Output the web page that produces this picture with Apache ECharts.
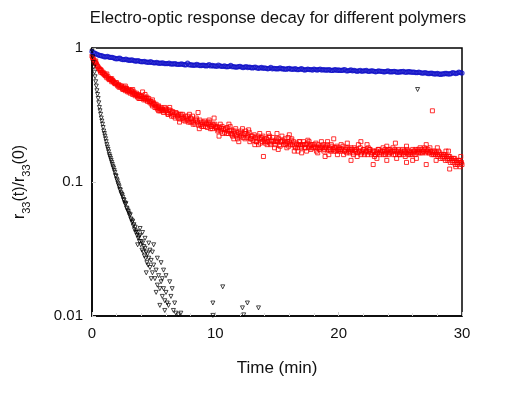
<!DOCTYPE html>
<html>
<head>
<meta charset="utf-8">
<script src="https://cdn.jsdelivr.net/npm/echarts@6/dist/echarts.min.js"></script>
<style>html,body{margin:0;padding:0;background:#fff;}#c{width:528px;height:396px;}</style>
</head>
<body>
<div id="c"></div>
<script>
const titleText = 'Electro-optic response decay for different polymers';
const xName = 'Time (min)';
const xTicks = [0, 10, 20, 30];
const yTicks = [0.01, 0.1, 1];

// Polymer A (blue, slow decay)
const blueData = [[0,0.94],[0.25,0.91],[0.5,0.89],[0.75,0.875],[1,0.86],[1.25,0.865],[1.5,0.85],[1.75,0.845],[2,0.83],[2.25,0.84],[2.5,0.82],[2.75,0.825],[3,0.81],[3.25,0.815],[3.5,0.80],[3.75,0.805],[4,0.79],[4.25,0.795],[4.5,0.785],[4.75,0.79],[5,0.775],[5.25,0.78],[5.5,0.77],[5.75,0.775],[6,0.765],[6.25,0.77],[6.5,0.76],[6.75,0.765],[7,0.755],[7.25,0.76],[7.5,0.75],[7.75,0.77],[8,0.75],[8.25,0.745],[8.5,0.755],[8.75,0.74],[9,0.745],[9.25,0.735],[9.5,0.75],[9.75,0.74],[10,0.735],[10.25,0.745],[10.5,0.73],[10.75,0.735],[11,0.725],[11.25,0.74],[11.5,0.725],[11.75,0.72],[12,0.73],[12.25,0.715],[12.5,0.725],[12.75,0.72],[13,0.71],[13.25,0.72],[13.5,0.705],[13.75,0.715],[14,0.71],[14.25,0.70],[14.5,0.715],[14.75,0.705],[15,0.70],[15.25,0.71],[15.5,0.70],[15.75,0.695],[16,0.705],[16.25,0.695],[16.5,0.70],[16.75,0.69],[17,0.70],[17.25,0.685],[17.5,0.695],[17.75,0.69],[18,0.695],[18.25,0.685],[18.5,0.695],[18.75,0.69],[19,0.685],[19.25,0.69],[19.5,0.68],[19.75,0.69],[20,0.685],[20.25,0.68],[20.5,0.69],[20.75,0.675],[21,0.685],[21.25,0.68],[21.5,0.67],[21.75,0.68],[22,0.675],[22.25,0.68],[22.5,0.67],[22.75,0.675],[23,0.665],[23.25,0.675],[23.5,0.67],[23.75,0.665],[24,0.675],[24.25,0.665],[24.5,0.67],[24.75,0.66],[25,0.665],[25.25,0.67],[25.5,0.66],[25.75,0.665],[26,0.66],[26.25,0.655],[26.5,0.66],[26.75,0.65],[27,0.655],[27.25,0.645],[27.5,0.65],[27.75,0.64],[28,0.645],[28.25,0.635],[28.5,0.64],[28.75,0.645],[29,0.64],[29.25,0.655],[29.5,0.645],[29.75,0.66],[30,0.65],
[0.125,0.925],[0.375,0.90],[0.625,0.88],[0.875,0.87],[1.125,0.86],[1.375,0.855],[1.625,0.85],[1.875,0.835],[2.125,0.835],[2.375,0.825],[2.625,0.82],[2.875,0.815],[3.125,0.81],[3.375,0.805],[3.625,0.80],[3.875,0.795],[4.125,0.79],[4.375,0.785],[4.625,0.78],[4.875,0.78],[5.125,0.775],[5.375,0.77],[5.625,0.77],[5.875,0.765],[6.125,0.765],[6.375,0.76],[6.625,0.76],[6.875,0.755],[7.125,0.755],[7.375,0.755],[7.625,0.75],[7.875,0.75],[8.125,0.745],[8.375,0.745],[8.625,0.745],[8.875,0.74],[9.125,0.74],[9.375,0.74],[9.625,0.735],[9.875,0.735],[10.125,0.73],[10.375,0.735],[10.625,0.73],[10.875,0.725],[11.125,0.73],[11.375,0.725],[11.625,0.72],[11.875,0.725],[12.125,0.72],[12.375,0.72],[12.625,0.715],[12.875,0.715],[13.125,0.715],[13.375,0.71],[13.625,0.71],[13.875,0.705],[14.125,0.705],[14.375,0.705],[14.625,0.70],[14.875,0.70],[15.125,0.70],[15.375,0.70],[15.625,0.695],[15.875,0.70],[16.125,0.695],[16.375,0.695],[16.625,0.69],[16.875,0.695],[17.125,0.69],[17.375,0.69],[17.625,0.69],[17.875,0.685],[18.125,0.69],[18.375,0.69],[18.625,0.685],[18.875,0.685],[19.125,0.685],[19.375,0.68],[19.625,0.685],[19.875,0.68],[20.125,0.68],[20.375,0.685],[20.625,0.675],[20.875,0.68],[21.125,0.675],[21.375,0.675],[21.625,0.675],[21.875,0.67],[22.125,0.675],[22.375,0.67],[22.625,0.675],[22.875,0.67],[23.125,0.67],[23.375,0.67],[23.625,0.665],[23.875,0.67],[24.125,0.665],[24.375,0.665],[24.625,0.665],[24.875,0.66],[25.125,0.665],[25.375,0.66],[25.625,0.665],[25.875,0.66],[26.125,0.66],[26.375,0.655],[26.625,0.655],[26.875,0.65],[27.125,0.65],[27.375,0.645],[27.625,0.645],[27.875,0.64],[28.125,0.64],[28.375,0.64],[28.625,0.645],[28.875,0.64],[29.125,0.645],[29.375,0.65],[29.625,0.65],[29.875,0.655]];

// Polymer B (red, intermediate decay)
const redData = [[0,0.87],[0.1,0.83],[0.2,0.79],[0.3,0.77],[0.4,0.74],[0.5,0.72],[0.6,0.70],[0.7,0.69],[0.8,0.66],[0.9,0.66],[1.0,0.63],[1.1,0.62],[1.2,0.60],[1.3,0.61],[1.4,0.58],[1.5,0.59],[1.6,0.56],[1.7,0.57],[1.8,0.55],[1.9,0.54],[2.0,0.55],[2.1,0.52],[2.2,0.53],[2.3,0.51],[2.4,0.52],[2.5,0.49],[2.6,0.51],[2.7,0.48],[2.8,0.50],[2.9,0.47],[3.0,0.49],[3.1,0.46],[3.2,0.48],[3.3,0.45],[3.4,0.47],[3.5,0.44],[3.6,0.46],[3.7,0.43],[3.8,0.45],[3.9,0.42],[4.0,0.44],[4.1,0.47],[4.2,0.41],[4.3,0.43],[4.4,0.42],[4.5,0.40],[4.6,0.42],[4.7,0.39],[4.8,0.40],[4.9,0.37],[5.0,0.39],[5.1,0.36],[5.2,0.38],[5.3,0.35],[5.4,0.37],[5.5,0.34],[5.6,0.36],[5.7,0.35],[5.8,0.33],[5.9,0.36],[6.0,0.34],[6.2,0.32],[6.4,0.34],[6.6,0.31],[6.8,0.33],[7.0,0.30],[7.2,0.32],[7.4,0.29],[7.6,0.31],[7.8,0.28],[8.0,0.30],[8.2,0.27],[8.4,0.29],[8.6,0.33],[8.8,0.27],[9.0,0.28],[9.2,0.26],[9.4,0.28],[9.6,0.25],[9.8,0.27],[10.0,0.26],[10.2,0.24],[10.4,0.27],[10.6,0.23],[10.8,0.25],[11.0,0.24],[11.2,0.26],[11.4,0.22],[11.6,0.24],[11.8,0.21],[12.0,0.23],[12.2,0.25],[12.4,0.21],[12.6,0.22],[12.8,0.20],[13.0,0.22],[13.2,0.19],[13.4,0.21],[13.6,0.23],[13.8,0.20],[14.0,0.21],[14.2,0.19],[14.4,0.22],[14.6,0.20],[14.8,0.18],[15.0,0.21],[15.2,0.19],[15.4,0.22],[15.6,0.20],[15.8,0.18],[16.0,0.20],[16.2,0.21],[16.4,0.17],[16.6,0.19],[16.8,0.20],[17.0,0.18],[17.2,0.19],[17.4,0.17],[17.6,0.20],[17.8,0.18],[18.0,0.19],[18.2,0.17],[18.4,0.18],[18.6,0.20],[18.8,0.17],[19.0,0.18],[19.2,0.16],[19.4,0.19],[19.6,0.17],[19.8,0.18],[20.0,0.17],[20.2,0.19],[20.4,0.16],[20.6,0.18],[20.8,0.17],[21.0,0.18],[21.2,0.16],[21.4,0.17],[21.6,0.19],[21.8,0.16],[22.0,0.175],[22.2,0.17],[22.4,0.18],[22.6,0.165],[22.8,0.17],[23.0,0.16],[23.2,0.175],[23.4,0.17],[23.6,0.18],[23.8,0.16],[24.0,0.175],[24.2,0.17],[24.4,0.18],[24.6,0.16],[24.8,0.17],[25.0,0.165],[25.2,0.175],[25.4,0.155],[25.6,0.17],[25.8,0.16],[26.0,0.175],[26.2,0.16],[26.4,0.17],[26.6,0.18],[26.8,0.165],[27.0,0.175],[27.2,0.17],[27.4,0.18],[27.6,0.165],[27.8,0.17],[28.0,0.16],[28.2,0.165],[28.4,0.155],[28.6,0.16],[28.8,0.15],[29.0,0.155],[29.2,0.145],[29.4,0.15],[29.6,0.14],[29.8,0.145],[30.0,0.135],
[0.05,0.85],[0.25,0.78],[0.45,0.73],[0.65,0.68],[0.85,0.65],[1.05,0.64],[1.35,0.59],[1.65,0.57],[2.05,0.53],[2.45,0.50],[2.85,0.48],[3.25,0.47],[3.65,0.44],[4.05,0.42],[4.45,0.43],[4.85,0.38],[5.25,0.36],[5.65,0.34],[6.1,0.33],[6.5,0.33],[6.9,0.31],[7.3,0.30],[7.7,0.29],[8.1,0.28],[8.5,0.29],[8.9,0.26],[9.3,0.27],[9.7,0.26],[10.1,0.25],[10.5,0.25],[10.9,0.23],[11.3,0.23],[11.7,0.22],[12.1,0.22],[12.5,0.23],[12.9,0.21],[13.3,0.20],[13.7,0.21],[13.9,0.155],[14.1,0.20],[14.5,0.19],[14.9,0.20],[15.3,0.20],[15.7,0.19],[16.1,0.19],[16.5,0.18],[16.9,0.19],[17.3,0.18],[17.7,0.19],[18.1,0.18],[18.5,0.18],[18.9,0.18],[19.3,0.175],[19.7,0.18],[20.1,0.175],[20.5,0.17],[20.9,0.165],[21.3,0.175],[21.7,0.17],[22.1,0.16],[22.5,0.175],[22.9,0.155],[23.3,0.165],[23.7,0.17],[24.1,0.165],[24.5,0.17],[24.9,0.16],[25.3,0.17],[25.7,0.165],[26.1,0.17],[26.5,0.165],[26.9,0.17],[27.3,0.165],[27.6,0.34],[27.7,0.16],[28.1,0.17],[28.5,0.16],[28.9,0.155],[29.3,0.15],[29.7,0.145],[29.9,0.14],
[22.8,0.135],[25.5,0.14],[27.1,0.135],[19.6,0.21],[16.0,0.225],[21.0,0.145],
[0.15,0.81],[0.35,0.76],[0.55,0.70],[0.75,0.68],[0.95,0.64],[1.15,0.62],[1.45,0.585],[1.55,0.58],[1.75,0.56],[1.85,0.545],[1.95,0.55],[2.15,0.53],[2.35,0.52],[2.55,0.50],[2.65,0.49],[2.75,0.50],[2.95,0.48],[3.05,0.47],[3.15,0.48],[3.35,0.46],[3.45,0.455],[3.55,0.45],[3.75,0.44],[3.85,0.44],[3.95,0.435],[4.15,0.43],[4.25,0.42],[4.35,0.41],[4.55,0.41],[4.65,0.40],[4.75,0.40],[4.95,0.385],[5.05,0.38],[5.15,0.37],[5.35,0.365],[5.45,0.355],[5.55,0.35],[5.75,0.345],[5.85,0.34],[5.95,0.35],
[6.05,0.35],[6.15,0.32],[6.25,0.345],[6.35,0.325],[6.45,0.31],[6.55,0.335],[6.65,0.32],[6.75,0.30],[6.85,0.325],[6.95,0.315],[7.05,0.32],[7.15,0.295],[7.25,0.31],[7.35,0.32],[7.45,0.30],[7.55,0.285],[7.65,0.30],[7.75,0.31],[7.85,0.29],[7.95,0.28],[8.05,0.295],[8.15,0.31],[8.25,0.28],[8.35,0.27],[8.45,0.30],[8.55,0.28],[8.65,0.265],[8.75,0.29],[8.85,0.28],[8.95,0.27],[9.05,0.26],[9.15,0.285],[9.25,0.275],[9.35,0.255],[9.45,0.27],[9.55,0.28],[9.65,0.26],[9.75,0.25],[9.85,0.265],[9.95,0.27],[10.05,0.255],[10.15,0.26],[10.25,0.245],[10.35,0.255],[10.45,0.24],[10.55,0.26],[10.65,0.25],[10.75,0.235],[10.85,0.245],[10.95,0.255],[11.05,0.23],[11.15,0.24],[11.25,0.245],[11.35,0.225],[11.45,0.24],[11.55,0.23],[11.65,0.25],[11.75,0.225],[11.85,0.235],[11.95,0.22],[12.05,0.24],[12.15,0.225],[12.25,0.215],[12.35,0.23],[12.45,0.24],[12.55,0.215],[12.65,0.225],[12.75,0.235],[12.85,0.21],[12.95,0.22],[13.05,0.205],[13.15,0.225],[13.25,0.215],[13.35,0.2],[13.45,0.22],[13.55,0.21],[13.65,0.195],[13.75,0.215],[13.85,0.22],[13.95,0.205],[14.05,0.195],[14.15,0.21],[14.25,0.2],[14.35,0.215],[14.45,0.195],[14.55,0.205],[14.65,0.215],[14.75,0.2],[14.85,0.19],[14.95,0.205],[15.05,0.2],[15.15,0.21],[15.25,0.185],[15.35,0.2],[15.45,0.205],[15.55,0.19],[15.65,0.21],[15.75,0.195],[15.85,0.2],[15.95,0.185],[16.05,0.195],[16.15,0.205],[16.25,0.19],[16.35,0.2],[16.45,0.185],[16.55,0.195],[16.65,0.18],[16.75,0.19],[16.85,0.2],[16.95,0.185],[17.05,0.19],[17.15,0.2],[17.25,0.18],[17.35,0.19],[17.45,0.195],[17.55,0.18],[17.65,0.185],[17.75,0.175],[17.85,0.19],[17.95,0.18],[18.05,0.185],[18.15,0.195],[18.25,0.18],[18.35,0.19],[18.45,0.175],[18.55,0.185],[18.65,0.18],[18.75,0.19],[18.85,0.175],[18.95,0.185],[19.05,0.19],[19.15,0.175],[19.25,0.18],[19.35,0.17],[19.45,0.185],[19.55,0.175],[19.65,0.18],[19.75,0.17],[19.85,0.185],[19.95,0.175],[20.05,0.18],[20.15,0.17],[20.25,0.175],[20.35,0.185],[20.45,0.17],[20.55,0.175],[20.65,0.165],[20.75,0.18],[20.85,0.175],[20.95,0.17],[21.05,0.175],[21.15,0.165],[21.25,0.18],[21.35,0.17],[21.45,0.175],[21.55,0.165],[21.65,0.17],[21.75,0.18],[21.85,0.165],[21.95,0.17],[22.05,0.175],[22.15,0.165],[22.25,0.17],[22.35,0.16],[22.45,0.17],[22.55,0.175],[22.65,0.16],[22.75,0.165],[22.85,0.17],[22.95,0.16],[23.05,0.17],[23.15,0.165],[23.25,0.175],[23.35,0.16],[23.45,0.165],[23.55,0.17],[23.65,0.16],[23.75,0.175],[23.85,0.165],[23.95,0.17],[24.05,0.16],[24.15,0.175],[24.25,0.165],[24.35,0.17],[24.45,0.16],[24.55,0.175],[24.65,0.17],[24.75,0.165],[24.85,0.175],[24.95,0.16],[25.05,0.17],[25.15,0.165],[25.25,0.16],[25.35,0.17],[25.45,0.165],[25.55,0.175],[25.65,0.16],[25.75,0.17],[25.85,0.165],[25.95,0.16],[26.05,0.165],[26.15,0.17],[26.25,0.175],[26.35,0.165],[26.45,0.175],[26.55,0.17],[26.65,0.165],[26.75,0.175],[26.85,0.17],[26.95,0.18],[27.05,0.165],[27.15,0.17],[27.25,0.175],[27.35,0.165],[27.45,0.17],[27.55,0.16],[27.65,0.17],[27.75,0.165],[27.85,0.16],[27.95,0.165],[28.05,0.155],[28.15,0.16],[28.25,0.15],[28.35,0.16],[28.45,0.15],[28.55,0.155],[28.65,0.145],[28.75,0.155],[28.85,0.145],[28.95,0.15],[29.05,0.14],[29.15,0.15],[29.25,0.14],[29.35,0.145],[29.45,0.135],[29.55,0.145],[29.65,0.135],[29.75,0.14],[29.85,0.13],[29.95,0.14],
[9.9,0.3],[11.5,0.21],[15.0,0.23],[17.0,0.165],[18.9,0.155],[21.8,0.2],[23.9,0.145],[24.6,0.195],[26.0,0.145],[28.0,0.18],[29.0,0.125],[28.9,0.17],
[0.3,0.80],[0.7,0.66],[1.2,0.64],[1.6,0.59],[2.2,0.51],[2.7,0.52],[3.3,0.49],[3.8,0.42],[4.3,0.45],[4.9,0.41],[5.4,0.34],[6.3,0.36],[7.1,0.28],[7.9,0.32],[8.7,0.25],[9.5,0.29],[10.3,0.22],[11.1,0.27],[11.9,0.20],[12.7,0.245],[13.5,0.19],[14.3,0.23],[15.1,0.175],[15.9,0.215],[16.7,0.17],[17.5,0.205],[18.3,0.165],[19.1,0.20],[19.9,0.16],[20.7,0.195],[21.5,0.155],[22.3,0.19],[23.1,0.15],[23.9,0.185],[24.7,0.15],[25.5,0.185],[26.3,0.15],[27.1,0.19],[27.9,0.145],[28.7,0.17],[29.5,0.13],[29.9,0.155]];

// Polymer C (black, fast decay)
const blackData = [[0,0.95],[0.05,0.86],[0.1,0.78],[0.15,0.72],[0.2,0.66],[0.25,0.61],[0.3,0.56],[0.35,0.52],[0.4,0.48],[0.45,0.45],[0.5,0.42],[0.55,0.39],[0.6,0.36],[0.65,0.34],[0.7,0.32],[0.75,0.30],[0.8,0.285],[0.85,0.27],[0.9,0.255],[0.95,0.24],[1.0,0.23],[1.05,0.22],[1.1,0.21],[1.15,0.20],[1.2,0.19],[1.25,0.182],[1.3,0.175],[1.35,0.168],[1.4,0.16],[1.45,0.155],[1.5,0.15],[1.55,0.145],[1.6,0.14],[1.65,0.135],[1.7,0.13],[1.75,0.127],[1.8,0.122],[1.85,0.118],[1.9,0.112],[1.95,0.11],[2.0,0.105],[2.05,0.102],[2.1,0.098],[2.15,0.095],[2.2,0.092],[2.25,0.088],[2.3,0.087],[2.35,0.083],[2.4,0.081],[2.45,0.08],[2.5,0.077],[2.55,0.074],[2.6,0.073],[2.65,0.07],[2.7,0.068],[2.75,0.069],[2.8,0.064],[2.85,0.063],[2.9,0.061],[2.95,0.06],[3.0,0.058],[3.05,0.056],[3.1,0.057],[3.15,0.053],[3.2,0.052],[3.25,0.05],[3.3,0.051],[3.35,0.047],[3.4,0.048],[3.45,0.044],[3.5,0.046],[3.55,0.042],[3.6,0.043],[3.65,0.04],[3.7,0.042],[3.75,0.038],[3.8,0.039],[3.85,0.036],[3.9,0.04],[3.95,0.034],[4.0,0.036],[4.05,0.031],[4.1,0.035],[4.15,0.03],[4.2,0.033],[4.25,0.028],[4.3,0.032],[4.35,0.027],[4.4,0.03],[4.45,0.025],[4.5,0.029],[4.55,0.024],[4.6,0.027],[4.7,0.023],[4.8,0.026],[4.9,0.021],[5.0,0.024],[5.1,0.019],[5.2,0.022],[5.3,0.017],[5.4,0.02],[5.5,0.016],[5.6,0.018],[5.7,0.014],[5.8,0.016],[5.9,0.013],[6.0,0.015],[6.2,0.012],[6.4,0.014],[6.6,0.011],[6.8,0.0105],
[4.3,0.038],[4.6,0.035],[4.9,0.03],[5.0,0.034],[5.3,0.027],[5.6,0.025],[5.8,0.022],[6.0,0.02],[6.3,0.018],[6.5,0.016],[4.8,0.019],[5.2,0.015],[5.5,0.012],[5.9,0.011],[6.1,0.0125],[3.9,0.045],[4.1,0.042],[4.4,0.021],[3.7,0.034],[4.7,0.031],[5.7,0.019],[6.7,0.0125],[7.2,0.0105],
[10.6,0.0165],[9.8,0.0125],[12.6,0.0125],[12.2,0.0115],[13.5,0.0115],[9.8,0.0101],[12.3,0.0102],[7.0,0.0102],[26.4,0.49]];

const chart = echarts.init(document.getElementById('c'), null, {renderer: 'canvas'});
const FONT = 'Liberation Sans, Arial, sans-serif';
const none = 'rgba(0,0,0,0)';
chart.setOption({
  animation: false,
  backgroundColor: '#fff',
  title: {
    text: titleText, left: 273, top: 5, textAlign: 'center',
    textStyle: {fontFamily: FONT, fontSize: 16.7, fontWeight: 'normal', color: '#111'}
  },
  grid: {left: 92, right: 66, top: 48, bottom: 80, show: true, borderColor: '#000', borderWidth: 1.5, backgroundColor: none},
  xAxis: {
    type: 'value', min: xTicks[0], max: xTicks[xTicks.length - 1], interval: 10,
    name: xName, nameLocation: 'middle', nameGap: 44,
    nameTextStyle: {fontFamily: FONT, fontSize: 17, color: '#111'},
    axisLine: {show: true, lineStyle: {color: '#000', width: 1.5}},
    axisTick: {show: true, inside: true, length: 4, lineStyle: {color: '#ccc'}},
    minorTick: {show: true, splitNumber: 5, length: 3, lineStyle: {color: '#ddd'}},
    axisLabel: {fontFamily: FONT, fontSize: 15, color: '#111', margin: 10},
    splitLine: {show: false}
  },
  yAxis: {
    type: 'log', logBase: 10, min: yTicks[0], max: yTicks[yTicks.length - 1],
    name: '{n|r}{s|33}{n|(t)/r}{s|33}{n|(0)}', nameLocation: 'middle', nameGap: 60, nameRotate: 90,
    nameTextStyle: {
      fontFamily: FONT, fontSize: 16, color: '#111',
      rich: {
        n: {fontFamily: FONT, fontSize: 16, color: '#111', lineHeight: 22, verticalAlign: 'top', padding: [2, 0, 0, 0]},
        s: {fontFamily: FONT, fontSize: 11, color: '#111', lineHeight: 22, verticalAlign: 'bottom', padding: [10, 0, 0, 0]}
      }
    },
    axisLine: {show: true, lineStyle: {color: '#000', width: 1.5}},
    axisTick: {show: true, inside: true, length: 4, lineStyle: {color: '#ccc'}},
    axisLabel: {fontFamily: FONT, fontSize: 15, color: '#111', margin: 9, formatter: v => String(+v.toPrecision(3))},
    splitLine: {show: false}
  },
  series: [
    {type: 'scatter', name: 'blue', data: blueData, symbol: 'circle', symbolSize: 4, z: 3,
     itemStyle: {color: none, borderColor: '#1010c8', borderWidth: 1.3}},
    {type: 'scatter', name: 'red', data: redData, symbol: 'rect', symbolSize: 4, z: 2,
     itemStyle: {color: none, borderColor: '#f00', borderWidth: 1}},
    {type: 'scatter', name: 'black', data: blackData, symbol: 'triangle', symbolRotate: 180, symbolSize: 4, z: 4,
     itemStyle: {color: none, borderColor: '#000', borderWidth: 0.9}}
  ]
});
</script>
</body>
</html>
